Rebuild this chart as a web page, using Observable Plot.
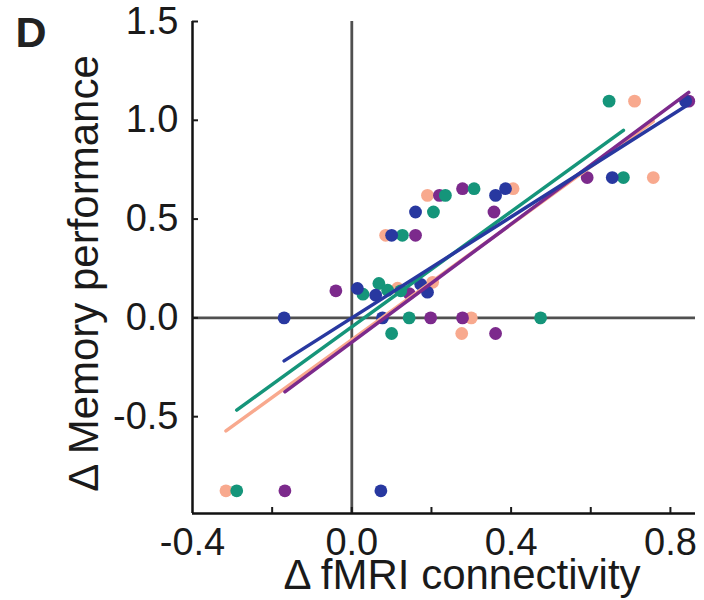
<!DOCTYPE html>
<html><head><meta charset="utf-8">
<script src="https://cdn.jsdelivr.net/npm/d3@7"></script>
<script src="https://cdn.jsdelivr.net/npm/@observablehq/plot@0.6"></script>
<style>body{margin:0;background:#fff;} svg{font-family:"Liberation Sans",Arial,sans-serif;}</style>
</head><body><div id="chart"></div>
<script>
const groups = ["Group A", "Group B", "Group C", "Group D"];
const colors = ["#f8a98e", "#7c2a8c", "#15957a", "#2838a0"];

// Group A (salmon)
const aX = [-0.316, 0.085, 0.115, 0.19, 0.203, 0.276, 0.30, 0.405, 0.71, 0.757];
const aY = [-0.875, 0.418, 0.15, 0.62, 0.18, -0.079, 0, 0.654, 1.097, 0.71];
// Group B (purple)
const bX = [-0.168, -0.04, 0.144, 0.16, 0.198, 0.22, 0.278, 0.278, 0.357, 0.361, 0.591, 0.846];
const bY = [-0.875, 0.137, 0.123, 0.418, 0, 0.62, 0.654, 0, 0.536, -0.079, 0.71, 1.097];
// Group C (teal)
const cX = [-0.289, 0.028, 0.068, 0.09, 0.10, 0.123, 0.127, 0.144, 0.205, 0.235, 0.307, 0.474, 0.646, 0.682];
const cY = [-0.875, 0.12, 0.174, 0.14, -0.079, 0.137, 0.418, 0, 0.536, 0.62, 0.654, 0, 1.097, 0.71];
// Group D (blue)
const dX = [-0.17, 0.014, 0.06, 0.073, 0.077, 0.10, 0.16, 0.173, 0.19, 0.361, 0.386, 0.654, 0.838];
const dY = [0, 0.149, 0.115, -0.875, 0, 0.418, 0.536, 0.17, 0.13, 0.62, 0.654, 0.71, 1.097];

const xTicks = [-0.2, 0, 0.2, 0.4, 0.6, 0.8];
const xLabels = [-0.4, 0, 0.4, 0.8];
const yTicks = [-0.5, 0, 0.5, 1.0, 1.5];
const xDomain = [-0.4, 0.863];
const yDomain = [-0.99, 1.5];
const xTitle = "Δ fMRI connectivity";
const yTitle = "Δ Memory performance";
const panel = "D";

const series = [[aX, aY], [bX, bY], [cX, cY], [dX, dY]];
const data = groups.flatMap((g, k) => series[k][0].map((x, i) => ({group: g, x, y: series[k][1][i]})));

const ink = "#1a1a1a";
const fmt = d => d.toFixed(1);

const chart = Plot.plot({
  width: 704,
  height: 600,
  marginLeft: 192,
  marginRight: 9,
  marginTop: 21,
  marginBottom: 87,
  style: {color: ink, background: "#fff"},
  x: {domain: xDomain},
  y: {domain: yDomain},
  color: {type: "ordinal", domain: groups, range: colors},
  marks: [
    Plot.ruleX([0], {stroke: "#505050", strokeWidth: 2.8}),
    Plot.ruleY([0], {stroke: "#505050", strokeWidth: 2.8}),
    Plot.dot(data, {x: "x", y: "y", fill: "group", r: 6.4}),
    Plot.linearRegressionY(data, {x: "x", y: "y", stroke: "group", ci: 0, strokeWidth: 3.5}),
    Plot.ruleX([xDomain[0]], {stroke: "#111", strokeWidth: 2.5}),
    Plot.ruleY([yDomain[0]], {stroke: "#111", strokeWidth: 2.5}),
    Plot.axisX({ticks: xTicks, tickSize: 6, dy: -6, tickFormat: () => "", label: null, strokeWidth: 2}),
    Plot.axisY({ticks: yTicks, tickSize: 6, dx: 6, tickFormat: () => "", label: null, strokeWidth: 2}),
    Plot.axisX({ticks: xLabels, tickSize: 0, tickPadding: 15, fontSize: 38, tickFormat: fmt, label: null}),
    Plot.axisY({ticks: yTicks, tickSize: 0, tickPadding: 14, fontSize: 38, tickFormat: fmt, label: null}),
    Plot.text([yTitle], {text: d => d, frameAnchor: "left", textAnchor: "middle", rotate: -90, dx: -108, dy: 6, fontSize: 42, fill: ink}),
    Plot.text([xTitle], {text: d => d, frameAnchor: "bottom", textAnchor: "middle", dx: 18, dy: 75, fontSize: 42, fill: ink}),
    Plot.text([panel], {text: d => d, frameAnchor: "top-left", dx: -177, dy: -5, textAnchor: "start", lineAnchor: "top", fontSize: 43, fontWeight: "bold", fill: "#222"})
  ]
});
document.getElementById("chart").append(chart);
</script>
</body></html>
